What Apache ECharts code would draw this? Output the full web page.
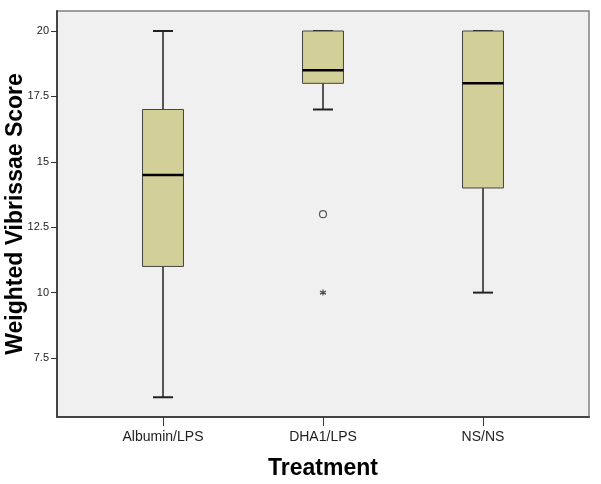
<!DOCTYPE html>
<html>
<head>
<meta charset="utf-8">
<script src="https://cdn.jsdelivr.net/npm/echarts@6/dist/echarts.min.js"></script>
<style>html,body{margin:0;padding:0;background:#fff;}#c{width:601px;height:484px;}</style>
</head>
<body>
<div id="c"></div>
<script>
var categories = ['Albumin/LPS', 'DHA1/LPS', 'NS/NS'];
var whiskerLow = [6, 17, 10];
var q1 = [11, 18, 14];
var median = [14.5, 18.5, 18];
var q3 = [17, 20, 20];
var whiskerHigh = [20, 20, 20];
var outlierCircle = [[1, 13]];
var outlierStar = [[1, 10]];
var yTicks = [7.5, 10, 12.5, 15, 17.5, 20];

var boxData = categories.map(function (c, i) {
  return [i, whiskerLow[i], q1[i], median[i], q3[i], whiskerHigh[i]];
});

var chart = echarts.init(document.getElementById('c'), null, {renderer: 'canvas'});
var font = 'Liberation Sans, Arial, sans-serif';

function renderBox(params, api) {
  var x = api.value(0);
  var pMin = api.coord([x, api.value(1)]);
  var pQ1 = api.coord([x, api.value(2)]);
  var pMed = api.coord([x, api.value(3)]);
  var pQ3 = api.coord([x, api.value(4)]);
  var pMax = api.coord([x, api.value(5)]);
  var boxW = api.size([0.256, 0])[0];
  var capW = api.size([0.125, 0])[0];
  var cx = pMin[0];
  var lineStyle = {stroke: '#222', lineWidth: 1.5};
  return {
    type: 'group',
    children: [
      {type: 'line', shape: {x1: cx, y1: pMin[1], x2: cx, y2: pQ1[1]}, style: lineStyle},
      {type: 'line', shape: {x1: cx, y1: pQ3[1], x2: cx, y2: pMax[1]}, style: lineStyle},
      {type: 'line', shape: {x1: cx - capW / 2, y1: pMin[1], x2: cx + capW / 2, y2: pMin[1]}, style: {stroke: '#222', lineWidth: 2}},
      {type: 'line', shape: {x1: cx - capW / 2, y1: pMax[1], x2: cx + capW / 2, y2: pMax[1]}, style: {stroke: '#222', lineWidth: 2}},
      {type: 'rect', shape: {x: cx - boxW / 2, y: pQ3[1], width: boxW, height: pQ1[1] - pQ3[1]},
        style: {fill: '#d3cf98', stroke: '#444', lineWidth: 1}},
      {type: 'line', shape: {x1: cx - boxW / 2, y1: pMed[1], x2: cx + boxW / 2, y2: pMed[1]}, style: {stroke: '#000', lineWidth: 2.5}}
    ]
  };
}

var option = {
  animation: false,
  backgroundColor: '#ffffff',
  grid: {
    left: 57, right: 12, top: 11, bottom: 67,
    outerBoundsMode: 'none', containLabel: false,
    show: true, backgroundColor: '#f0f0f0', borderColor: '#808080', borderWidth: 1.5
  },
  xAxis: {
    type: 'value',
    min: -0.6625, max: 2.6625,
    name: 'Treatment', nameLocation: 'middle', nameGap: 40, nameMoveOverlap: false,
    nameTextStyle: {fontFamily: font, fontSize: 23, fontWeight: 'bold', color: '#000'},
    axisLine: {show: true, onZero: false, lineStyle: {color: '#444', width: 2}},
    axisTick: {show: true, length: 9, customValues: [0, 1, 2], lineStyle: {color: '#333', width: 1}},
    axisLabel: {
      customValues: [0, 1, 2], margin: 13,
      fontFamily: font, fontSize: 14, color: '#222',
      formatter: function (v) { return categories[Math.round(v)] || ''; }
    },
    splitLine: {show: false}
  },
  yAxis: {
    type: 'value',
    min: 5.245, max: 20.765,
    name: 'Weighted Vibrissae Score', nameLocation: 'middle', nameGap: 30, nameMoveOverlap: false,
    nameTextStyle: {fontFamily: font, fontSize: 23, fontWeight: 'bold', color: '#000'},
    axisLine: {show: true, onZero: false, lineStyle: {color: '#444', width: 2}},
    axisTick: {show: true, length: 6, customValues: yTicks, lineStyle: {color: '#333', width: 1}},
    axisLabel: {customValues: yTicks, margin: 8, fontFamily: font, fontSize: 11, color: '#222'},
    splitLine: {show: false}
  },
  series: [
    {
      type: 'custom',
      renderItem: renderBox,
      data: boxData,
      encode: {x: 0, y: [1, 2, 3, 4, 5]},
      silent: true
    },
    {
      type: 'scatter',
      data: outlierCircle,
      symbol: 'circle', symbolSize: 7,
      itemStyle: {color: 'rgba(0,0,0,0)', borderColor: '#333', borderWidth: 1.2},
      silent: true
    },
    {
      type: 'scatter',
      data: outlierStar,
      symbol: 'path://M5,0L5,10M0.67,2.5L9.33,7.5M0.67,7.5L9.33,2.5',
      symbolSize: 6,
      itemStyle: {color: 'none', borderColor: '#222', borderWidth: 1.2},
      silent: true
    }
  ]
};
chart.setOption(option);
</script>
</body>
</html>
